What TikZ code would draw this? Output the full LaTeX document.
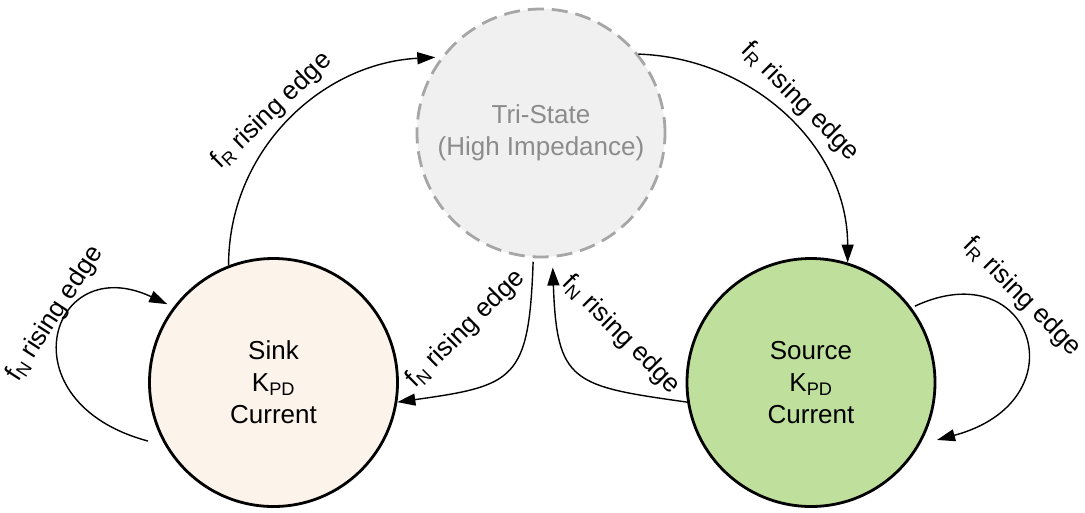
\documentclass[tikz,border=0pt]{standalone}
\usepackage{fontspec}
\setmainfont{Liberation Sans}
\usetikzlibrary{arrows.meta}
\definecolor{trifill}{HTML}{F0F0F0}
\definecolor{triline}{HTML}{A6A6A6}
\definecolor{tritext}{HTML}{8C8C8C}
\definecolor{sinkfill}{HTML}{FCF3EB}
\definecolor{srcfill}{HTML}{BFE09C}
\begin{document}
\begin{tikzpicture}[x=1pt,y=1pt,
  state/.style={circle, minimum size=248pt, inner sep=0pt, line width=2.8pt, align=center, font=\fontsize{26}{32}\selectfont},
  conn/.style={line width=1.4pt, -{Triangle[length=18pt,width=12pt]}},
  lbl/.style={font=\fontsize{26}{30}\selectfont, inner sep=0pt}]
\useasboundingbox (0,0) rectangle (1085,-512);
\node[state, draw=triline, dash pattern=on 16pt off 8pt, fill=trifill, text=tritext] (tri) at (541,-133) {Tri-State\\(High Impedance)};
\node[state, draw=black, fill=sinkfill] (sink) at (273.5,-382.5) {Sink\\K\textsubscript{PD}\\Current};
\node[state, draw=black, fill=srcfill] (source) at (811,-382.5) {Source\\K\textsubscript{PD}\\Current};
\path (tri.center) ++(144.4:130) coordinate (t1);
\path (tri.center) ++(266.5:129) coordinate (t3);
\path (tri.center) ++(275:135) coordinate (t4);
\path (sink.center) ++(205:138.5) coordinate (s5);
\path (sink.center) ++(143.6:132) coordinate (e5);
\path (source.center) ++(36.3:129) coordinate (s6);
\path (source.center) ++(-24.5:138.5) coordinate (e6);
\draw[conn] (sink.111.5) to[out=90,in=183] (t1);
\draw[conn] (tri.39) to[out=-2,in=90] (source.73);
\draw[conn] (t3) to[out=-92,in=8,looseness=1.55] (sink.-9);
\draw[conn] (source.189) to[out=172,in=-88,looseness=1.55] (t4);
\draw[conn] (s5) to[out=165,in=155,out distance=150pt,in distance=130pt] (e5);
\draw[conn] (s6) to[out=25,in=15,out distance=130pt,in distance=150pt] (e6);
\node[lbl, rotate=44] (l1) at (272,-111) {f\textsubscript{R} rising edge};
\node[lbl, rotate=-45] (l2) at (800,-102) {f\textsubscript{R} rising edge};
\node[lbl, rotate=45] (l3) at (466,-329) {f\textsubscript{N} rising edge};
\node[lbl, rotate=-45] (l4) at (621,-335) {f\textsubscript{N} rising edge};
\node[lbl, rotate=57] (l5) at (55,-314) {f\textsubscript{N} rising edge};
\node[lbl, rotate=-45] (l6) at (1022,-297) {f\textsubscript{R} rising edge};
\end{tikzpicture}
\end{document}
